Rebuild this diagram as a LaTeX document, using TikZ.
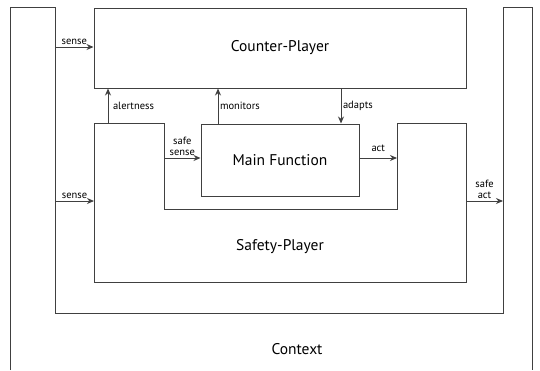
\documentclass[tikz,border=0pt]{standalone}
\usepackage{fontspec}
\setmainfont{PT Sans}
\usetikzlibrary{arrows.meta}
\begin{document}
\begin{tikzpicture}[x=1pt,y=-1pt,
  line/.style={draw=black!75,line width=1pt},
  box/.style={line,rectangle,inner sep=0pt,font=\fontsize{15.5}{17}\selectfont},
  arr/.style={line,-{Stealth[length=7pt,width=6pt]}},
  lbl/.style={font=\fontsize{10.5}{11.5}\selectfont,inner sep=1.5pt,align=center},
  big/.style={font=\fontsize{15.5}{17}\selectfont}]
\useasboundingbox (0,0) rectangle (540,370);
% Context outline
\draw[line] (10,370) -- (10,7) -- (55,7) -- (55,313) -- (503,313) -- (503,7) -- (532,7) -- (532,370);
\node[big] (ctx) at (297,349) {Context};
% Counter-Player
\node[box,minimum width=372pt,minimum height=80pt] (cp) at (280,48) {Counter-Player};
% Safety-Player outline
\draw[line] (94,123) -- (164,123) -- (164,209) -- (397,209) -- (397,123) -- (466,123) -- (466,282) -- (94,282) -- cycle;
\node[big] (sp) at (280,247) {Safety-Player};
% Main Function
\node[box,minimum width=158pt,minimum height=72pt] (mf) at (280,160) {Main Function};
% coordinates on outlines
\coordinate (cl1) at (55,47);
\coordinate (cl2) at (55,201);
\coordinate (cr) at (503,201);
\coordinate (spl) at (94,201);
\coordinate (spr) at (466,201);
\coordinate (spa) at (108,123);
\coordinate (ssl) at (164,158);
\coordinate (ssr) at (397,158);
% arrows
\draw[arr] (cl1) -- node[lbl,above] {sense} (cp.west |- cl1);
\draw[arr] (cl2) -- node[lbl,above] {sense} (spl);
\draw[arr] (spr) -- node[lbl,above] {safe\\act} (cr);
\draw[arr] (spa) -- node[lbl,right,xshift=3pt] {alertness} (spa |- cp.south);
\draw[arr] (218,0 |- mf.north) -- node[lbl,right] {monitors} (218,0 |- cp.south);
\draw[arr] (341,0 |- cp.south) -- node[lbl,right] {adapts} (341,0 |- mf.north);
\draw[arr] (ssl) -- node[lbl,above] {safe\\sense} (mf.west |- ssl);
\draw[arr] (mf.east |- ssr) -- node[lbl,above,yshift=4pt] {act} (ssr);
\end{tikzpicture}
\end{document}
